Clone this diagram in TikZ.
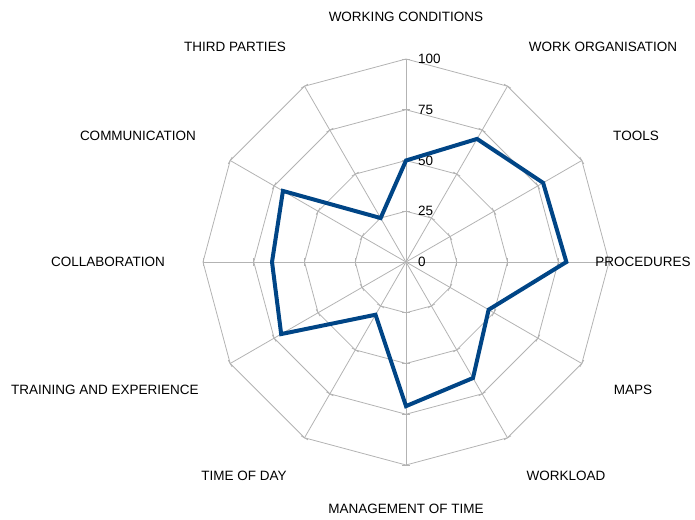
\documentclass[tikz,border=0pt]{standalone}
\usepackage{fontspec}
\setmainfont{Liberation Sans}
\definecolor{gridgray}{RGB}{179,179,179}
\definecolor{seriesblue}{RGB}{0,69,134}

\begin{document}
\begin{tikzpicture}[x=1pt,y=1pt,
    lbl/.style={font=\fontsize{13.5}{16}\selectfont,inner sep=0pt},
    gridline/.style={gridgray,line width=0.8pt},
    series/.style={seriesblue,line width=4pt}]
  \useasboundingbox (-406,-257) rectangle (289,262);
  \coordinate (o) at (0,0);

  % web and spokes
  \foreach \r in {50.75,101.5,152.25,203} {
    \draw[gridline] (0:\r) \foreach \a in {30,60,...,330} {-- (\a:\r)} -- cycle;
  }
  \foreach \a in {0,30,...,330} {
    \draw[gridline] (o) -- (\a:203);
    \foreach \r in {50.75,101.5,152.25,203}
      \draw[gridline,rotate=\a] (\r,-4) -- (\r,4);
  }

  % scale
  \node[lbl,anchor=west] (s0) at (12,0) {0};
  \node[lbl,anchor=west] (s25) at (12,50.75) {25};
  \node[lbl,anchor=west] (s50) at (12,101.5) {50};
  \node[lbl,anchor=west] (s75) at (12,152.25) {75};
  \node[lbl,anchor=west] (s100) at (12,203) {100};

  % categories
  \node[lbl] (wcond) at (0,245) {WORKING CONDITIONS};
  \node[lbl] (worg) at (197,215) {WORK ORGANISATION};
  \node[lbl] (tools) at (230,126) {TOOLS};
  \node[lbl] (proc) at (237,0) {PROCEDURES};
  \node[lbl] (maps) at (227,-128) {MAPS};
  \node[lbl] (wload) at (160,-214) {WORKLOAD};
  \node[lbl] (mtime) at (0,-247) {MANAGEMENT OF TIME};
  \node[lbl] (tday) at (-162,-214) {TIME OF DAY};
  \node[lbl] (train) at (-301,-128) {TRAINING AND EXPERIENCE};
  \node[lbl] (collab) at (-298,0) {COLLABORATION};
  \node[lbl] (comm) at (-268,126) {COMMUNICATION};
  \node[lbl] (third) at (-171,215) {THIRD PARTIES};

  % values (100 = 203pt)
  \coordinate (vwcond) at (90:50*2.03);
  \coordinate (vworg) at (60:70*2.03);
  \coordinate (vtools) at (30:78*2.03);
  \coordinate (vproc) at (0:79*2.03);
  \coordinate (vmaps) at (-30:47*2.03);
  \coordinate (vwload) at (-60:66*2.03);
  \coordinate (vmtime) at (-90:71*2.03);
  \coordinate (vtday) at (-120:30*2.03);
  \coordinate (vtrain) at (-150:71*2.03);
  \coordinate (vcollab) at (180:66*2.03);
  \coordinate (vcomm) at (150:70*2.03);
  \coordinate (vthird) at (120:25*2.03);

  \draw[series] (vwcond) -- (vworg) -- (vtools) -- (vproc) -- (vmaps) -- (vwload)
    -- (vmtime) -- (vtday) -- (vtrain) -- (vcollab) -- (vcomm) -- (vthird) -- cycle;
\end{tikzpicture}
\end{document}
